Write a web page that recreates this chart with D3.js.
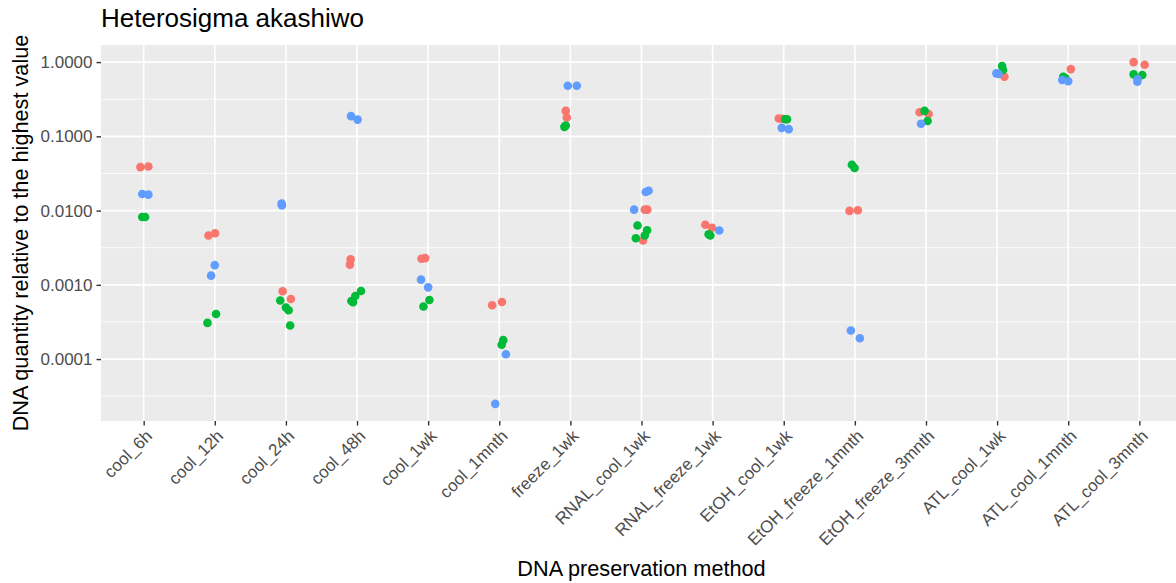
<!DOCTYPE html>
<html>
<head>
<meta charset="utf-8">
<script src="https://cdn.jsdelivr.net/npm/d3@7"></script>
<style>
  html, body { margin: 0; padding: 0; background: #ffffff; }
  svg { display: block; font-family: "Liberation Sans", Arial, sans-serif; }
</style>
</head>
<body>
<svg id="chart" width="1176" height="583"></svg>
<script>
// ---- data ----
const categories = ["cool_6h", "cool_12h", "cool_24h", "cool_48h", "cool_1wk", "cool_1mnth",
  "freeze_1wk", "RNAL_cool_1wk", "RNAL_freeze_1wk", "EtOH_cool_1wk", "EtOH_freeze_1mnth",
  "EtOH_freeze_3mnth", "ATL_cool_1wk", "ATL_cool_1mnth", "ATL_cool_3mnth"];

const yTickValues = [0.0001, 0.001, 0.01, 0.1, 1];
const yTickLabels = ["0.0001", "0.0010", "0.0100", "0.1000", "1.0000"];

// [category, value, jitter (fraction of category step)]
const seriesRed = [
  ["cool_6h", 0.0385, -0.046], ["cool_6h", 0.0392, 0.066],
  ["cool_12h", 0.00462, -0.089], ["cool_12h", 0.00496, 0.004],
  ["cool_24h", 0.000818, -0.046], ["cool_24h", 0.000645, 0.07],
  ["cool_48h", 0.0022, -0.09], ["cool_48h", 0.00187, -0.1],
  ["cool_1wk", 0.00225, -0.094], ["cool_1wk", 0.00229, -0.042],
  ["cool_1mnth", 0.000531, -0.1], ["cool_1mnth", 0.000588, 0.038],
  ["freeze_1wk", 0.22, -0.065], ["freeze_1wk", 0.179, -0.05],
  ["RNAL_cool_1wk", 0.0103, 0.082], ["RNAL_cool_1wk", 0.0103, 0.046], ["RNAL_cool_1wk", 0.00396, 0.022],
  ["RNAL_freeze_1wk", 0.00643, -0.103], ["RNAL_freeze_1wk", 0.00586, -0.008],
  ["EtOH_cool_1wk", 0.174, -0.07], ["EtOH_cool_1wk", 0.172, -0.024],
  ["EtOH_freeze_1mnth", 0.0099, -0.075], ["EtOH_freeze_1mnth", 0.0101, 0.042],
  ["EtOH_freeze_3mnth", 0.211, -0.09], ["EtOH_freeze_3mnth", 0.2, 0.037],
  ["ATL_cool_1wk", 0.635, 0.103],
  ["ATL_cool_1mnth", 0.805, 0.037],
  ["ATL_cool_3mnth", 1.0, -0.08], ["ATL_cool_3mnth", 0.92, 0.075]
];
const seriesGreen = [
  ["cool_6h", 0.0082, -0.02], ["cool_6h", 0.0082, 0.02],
  ["cool_12h", 0.000405, 0.018], ["cool_12h", 0.000307, -0.103],
  ["cool_24h", 0.000614, -0.08], ["cool_24h", 0.000494, 0.0], ["cool_24h", 0.000455, 0.038], ["cool_24h", 0.000283, 0.06],
  ["cool_48h", 0.000606, -0.08], ["cool_48h", 0.000582, -0.056], ["cool_48h", 0.000708, -0.024], ["cool_48h", 0.000826, 0.056],
  ["cool_1wk", 0.000625, 0.018], ["cool_1wk", 0.00051, -0.066],
  ["cool_1mnth", 0.00018, 0.056], ["cool_1mnth", 0.000156, 0.034],
  ["freeze_1wk", 0.134, -0.084], ["freeze_1wk", 0.14, -0.065],
  ["RNAL_cool_1wk", 0.00629, -0.056], ["RNAL_cool_1wk", 0.00544, 0.079], ["RNAL_cool_1wk", 0.00462, 0.046], ["RNAL_cool_1wk", 0.00425, -0.08],
  ["RNAL_freeze_1wk", 0.00481, -0.056], ["RNAL_freeze_1wk", 0.00462, -0.032],
  ["EtOH_cool_1wk", 0.17, 0.022], ["EtOH_cool_1wk", 0.17, 0.046],
  ["EtOH_freeze_1mnth", 0.0414, -0.042], ["EtOH_freeze_1mnth", 0.0374, -0.004],
  ["EtOH_freeze_3mnth", 0.22, -0.02], ["EtOH_freeze_3mnth", 0.161, 0.023],
  ["ATL_cool_1wk", 0.883, 0.07], ["ATL_cool_1wk", 0.781, 0.084],
  ["ATL_cool_1mnth", 0.635, -0.07], ["ATL_cool_1mnth", 0.61, -0.04],
  ["ATL_cool_3mnth", 0.684, -0.08], ["ATL_cool_3mnth", 0.67, 0.042]
];
const seriesBlue = [
  ["cool_6h", 0.0167, -0.02], ["cool_6h", 0.0164, 0.066],
  ["cool_12h", 0.00184, 0.0], ["cool_12h", 0.00133, -0.052],
  ["cool_24h", 0.0124, -0.06], ["cool_24h", 0.0117, -0.056],
  ["cool_48h", 0.187, -0.084], ["cool_48h", 0.168, 0.008],
  ["cool_1wk", 0.001175, -0.1], ["cool_1wk", 0.000925, 0.0],
  ["cool_1mnth", 0.000116, 0.094], ["cool_1mnth", 0.0000249, -0.056],
  ["freeze_1wk", 0.481, -0.037], ["freeze_1wk", 0.481, 0.09],
  ["RNAL_cool_1wk", 0.0178, 0.06], ["RNAL_cool_1wk", 0.0185, 0.1], ["RNAL_cool_1wk", 0.0103, -0.104],
  ["RNAL_freeze_1wk", 0.0054, 0.094],
  ["EtOH_cool_1wk", 0.13, -0.028], ["EtOH_cool_1wk", 0.125, 0.07],
  ["EtOH_freeze_1mnth", 0.000243, -0.056], ["EtOH_freeze_1mnth", 0.000191, 0.07],
  ["EtOH_freeze_3mnth", 0.148, -0.07],
  ["ATL_cool_1wk", 0.705, -0.01], ["ATL_cool_1wk", 0.69, 0.02],
  ["ATL_cool_1mnth", 0.573, -0.084], ["ATL_cool_1mnth", 0.551, 0.0],
  ["ATL_cool_3mnth", 0.586, -0.024], ["ATL_cool_3mnth", 0.544, -0.028]
];

const seriesList = [
  { name: "red", color: "#F8766D", points: seriesRed },
  { name: "green", color: "#00BA38", points: seriesGreen },
  { name: "blue", color: "#619CFF", points: seriesBlue }
];

// ---- layout ----
const panel = { left: 101, right: 1182, top: 45, bottom: 421 };
const svg = d3.select("#chart");

const x = d3.scalePoint().domain(categories).range([panel.left, panel.right]).padding(0.6);
const step = x.step();

const allVals = seriesList.flatMap(s => s.points.map(p => p[1]));
const lmin = Math.log10(d3.min(allVals)), lmax = Math.log10(d3.max(allVals));
const pad = (lmax - lmin) * 0.05;
const y = d3.scaleLog().domain([Math.pow(10, lmin - pad), Math.pow(10, lmax + pad)])
  .range([panel.bottom, panel.top]);

// panel background
svg.append("rect")
  .attr("x", panel.left).attr("y", panel.top)
  .attr("width", panel.right - panel.left).attr("height", panel.bottom - panel.top)
  .attr("fill", "#EBEBEB");

// minor y grid (half decades)
const minorVals = [-4.5, -3.5, -2.5, -1.5, -0.5].map(e => Math.pow(10, e));
svg.append("g").selectAll("line").data(minorVals).join("line")
  .attr("x1", panel.left).attr("x2", panel.right)
  .attr("y1", d => y(d)).attr("y2", d => y(d))
  .attr("stroke", "#ffffff").attr("stroke-width", 0.8);

// major y grid
svg.append("g").selectAll("line").data(yTickValues).join("line")
  .attr("x1", panel.left).attr("x2", panel.right)
  .attr("y1", d => y(d)).attr("y2", d => y(d))
  .attr("stroke", "#ffffff").attr("stroke-width", 1.6);

// x grid
svg.append("g").selectAll("line").data(categories).join("line")
  .attr("x1", d => x(d)).attr("x2", d => x(d))
  .attr("y1", panel.top).attr("y2", panel.bottom)
  .attr("stroke", "#ffffff").attr("stroke-width", 1.6);

// y axis
const yAxis = d3.axisLeft(y).tickValues(yTickValues)
  .tickFormat((d, i) => yTickLabels[i]).tickSize(4.5).tickPadding(4);
const gy = svg.append("g").attr("transform", `translate(${panel.left},0)`).call(yAxis);
gy.select(".domain").remove();
gy.selectAll(".tick line").attr("stroke", "#333333").attr("stroke-width", 1.4);
gy.selectAll(".tick text").attr("fill", "#4D4D4D").style("font-size", "17px")
  .style("font-family", "'Liberation Sans', Arial, sans-serif");

// x axis
const xAxis = d3.axisBottom(x).tickSize(4.5).tickFormat(d => d);
const gx = svg.append("g").attr("transform", `translate(0,${panel.bottom})`).call(xAxis);
gx.select(".domain").remove();
gx.selectAll(".tick line").attr("stroke", "#333333").attr("stroke-width", 1.4);
gx.selectAll(".tick text")
  .attr("fill", "#4D4D4D").style("font-size", "17px")
  .style("font-family", "'Liberation Sans', Arial, sans-serif")
  .attr("text-anchor", "end")
  .attr("dy", null).attr("y", null)
  .attr("transform", "translate(9,16) rotate(-45)");

// points
seriesList.forEach(s => {
  svg.append("g").selectAll("circle").data(s.points).join("circle")
    .attr("cx", d => x(d[0]) + d[2] * step)
    .attr("cy", d => y(d[1]))
    .attr("r", 4.3)
    .attr("fill", s.color);
});

// title
svg.append("text").attr("x", panel.left).attr("y", 27)
  .style("font-size", "26px").attr("fill", "#000000")
  .text("Heterosigma akashiwo");

// axis titles
svg.append("text")
  .attr("transform", `translate(28,${(panel.top + panel.bottom) / 2}) rotate(-90)`)
  .attr("text-anchor", "middle").style("font-size", "21.7px").attr("fill", "#000000")
  .text("DNA quantity relative to the highest value");

svg.append("text")
  .attr("x", (panel.left + panel.right) / 2).attr("y", 576)
  .attr("text-anchor", "middle").style("font-size", "21.7px").attr("fill", "#000000")
  .text("DNA preservation method");
</script>
</body>
</html>
